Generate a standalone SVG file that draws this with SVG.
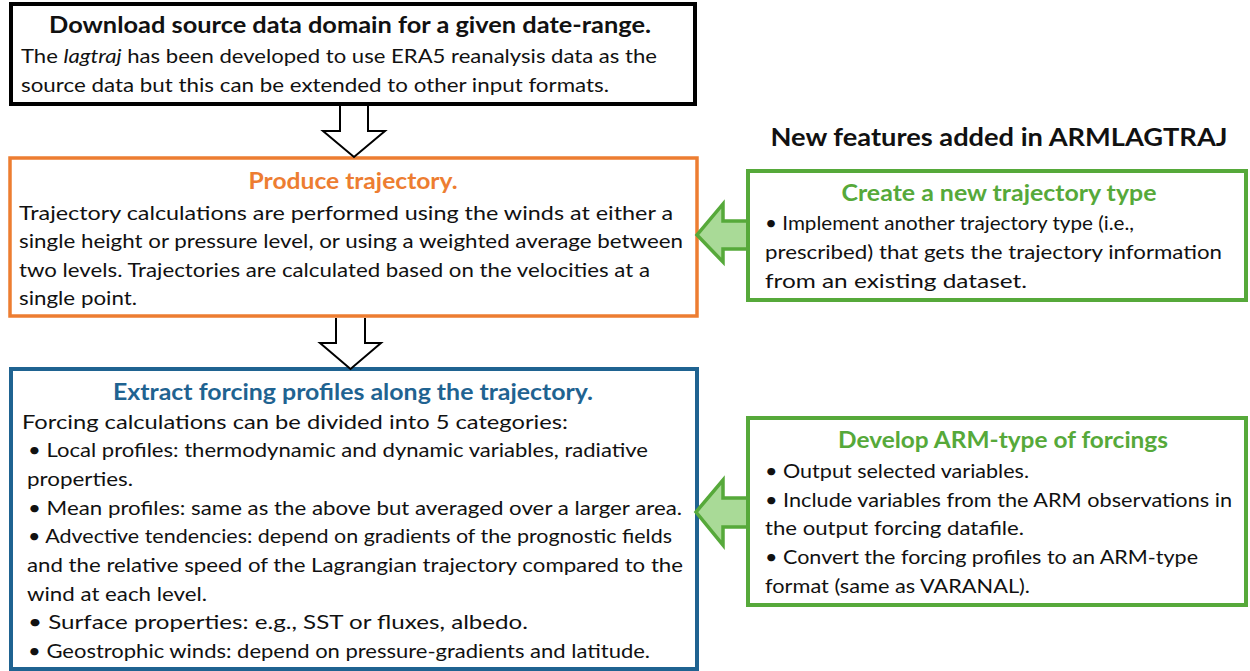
<svg xmlns="http://www.w3.org/2000/svg" width="1250" height="671" viewBox="0 0 1250 671">
<style>
text{font-family:Lato,"Liberation Sans",sans-serif;font-size:20px;fill:#111}
.t{font-weight:bold;font-size:22px;text-anchor:middle}
.box{fill:#fff}
.hollow{fill:#fff;stroke:#000;stroke-width:2}
.garrow{fill:#A9DA97;stroke:#56A93A;stroke-width:3.5;stroke-linejoin:miter}
</style>
<rect width="1250" height="671" fill="#fff"/>
<g id="download">
<rect class="box" x="11" y="4" width="684" height="100" stroke="#000" stroke-width="4"/>
<text class="t" x="350" y="33" textLength="602" lengthAdjust="spacingAndGlyphs">Download source data domain for a given date-range.</text>
<text x="21" y="63" textLength="636" lengthAdjust="spacingAndGlyphs">The <tspan font-style="italic">lagtraj</tspan> has been developed to use ERA5 reanalysis data as the</text>
<text x="21" y="92" textLength="588" lengthAdjust="spacingAndGlyphs">source data but this can be extended to other input formats.</text>
</g>
<g id="produce">
<rect class="box" x="10" y="158" width="687" height="158" stroke="#ED7D31" stroke-width="3.5"/>
<text class="t" x="353" y="189" fill="#ED7D31" style="fill:#ED7D31" textLength="209" lengthAdjust="spacingAndGlyphs">Produce trajectory.</text>
<text x="19" y="220" textLength="654" lengthAdjust="spacingAndGlyphs">Trajectory calculations are performed using the winds at either a</text>
<text x="19" y="248" textLength="664" lengthAdjust="spacingAndGlyphs">single height or pressure level, or using a weighted average between</text>
<text x="19" y="277" textLength="631" lengthAdjust="spacingAndGlyphs">two levels. Trajectories are calculated based on the velocities at a</text>
<text x="19" y="305" textLength="118" lengthAdjust="spacingAndGlyphs">single point.</text>
</g>
<g id="extract">
<rect class="box" x="11" y="369" width="686" height="300" stroke="#1F6391" stroke-width="4"/>
<text class="t" x="353" y="400" style="fill:#1F6391" textLength="480" lengthAdjust="spacingAndGlyphs">Extract forcing profiles along the trajectory.</text>
<text x="22" y="429" textLength="546" lengthAdjust="spacingAndGlyphs">Forcing calculations can be divided into 5 categories:</text>
<text x="28" y="457" textLength="620" lengthAdjust="spacingAndGlyphs">• Local profiles: thermodynamic and dynamic variables, radiative</text>
<text x="27" y="486" textLength="106" lengthAdjust="spacingAndGlyphs">properties.</text>
<text x="28" y="515" textLength="654" lengthAdjust="spacingAndGlyphs">• Mean profiles: same as the above but averaged over a larger area.</text>
<text x="28" y="543" textLength="644" lengthAdjust="spacingAndGlyphs">• Advective tendencies: depend on gradients of the prognostic fields</text>
<text x="27" y="572" textLength="656" lengthAdjust="spacingAndGlyphs">and the relative speed of the Lagrangian trajectory compared to the</text>
<text x="27" y="601" textLength="180" lengthAdjust="spacingAndGlyphs">wind at each level.</text>
<text x="28" y="629" textLength="500" lengthAdjust="spacingAndGlyphs">• Surface properties: e.g., SST or fluxes, albedo.</text>
<text x="28" y="658" textLength="622" lengthAdjust="spacingAndGlyphs">• Geostrophic winds: depend on pressure-gradients and latitude.</text>
</g>
<g id="heading">
<text x="999" y="146" style="font-weight:bold;font-size:24px;text-anchor:middle" textLength="457" lengthAdjust="spacingAndGlyphs">New features added in ARMLAGTRAJ</text>
</g>
<g id="trajtype">
<rect class="box" x="748" y="171" width="498" height="129" stroke="#56A93A" stroke-width="4"/>
<text class="t" x="999" y="201" style="fill:#56A93A" textLength="315" lengthAdjust="spacingAndGlyphs">Create a new trajectory type</text>
<text x="765" y="230" textLength="369" lengthAdjust="spacingAndGlyphs">• Implement another trajectory type (i.e.,</text>
<text x="765" y="259" textLength="457" lengthAdjust="spacingAndGlyphs">prescribed) that gets the trajectory information</text>
<text x="765" y="288" textLength="262" lengthAdjust="spacingAndGlyphs">from an existing dataset.</text>
</g>
<g id="armforcing">
<rect class="box" x="748" y="418" width="498" height="187" stroke="#56A93A" stroke-width="4"/>
<text class="t" x="1003" y="448" style="fill:#56A93A" textLength="330" lengthAdjust="spacingAndGlyphs">Develop ARM-type of forcings</text>
<text x="765" y="478" textLength="264" lengthAdjust="spacingAndGlyphs">• Output selected variables.</text>
<text x="765" y="507" textLength="467" lengthAdjust="spacingAndGlyphs">• Include variables from the ARM observations in</text>
<text x="765" y="535" textLength="259" lengthAdjust="spacingAndGlyphs">the output forcing datafile.</text>
<text x="765" y="564" textLength="433" lengthAdjust="spacingAndGlyphs">• Convert the forcing profiles to an ARM-type</text>
<text x="765" y="593" textLength="265" lengthAdjust="spacingAndGlyphs">format (same as VARANAL).</text>
</g>
<g id="connectors">
<path class="hollow" d="M340,106 V131 H323 L354,157 L385,131 H368 V106"/>
<path class="hollow" d="M336,318 V343 H320 L350.5,369 L381,343 H365 V318"/>
<path class="garrow" d="M746,221 H723 V204 L697,235 L723,262 V249 H746"/>
<path class="garrow" d="M746,498 H723 V480 L696,512 L723,545 V527 H746"/>
</g>
</svg>
